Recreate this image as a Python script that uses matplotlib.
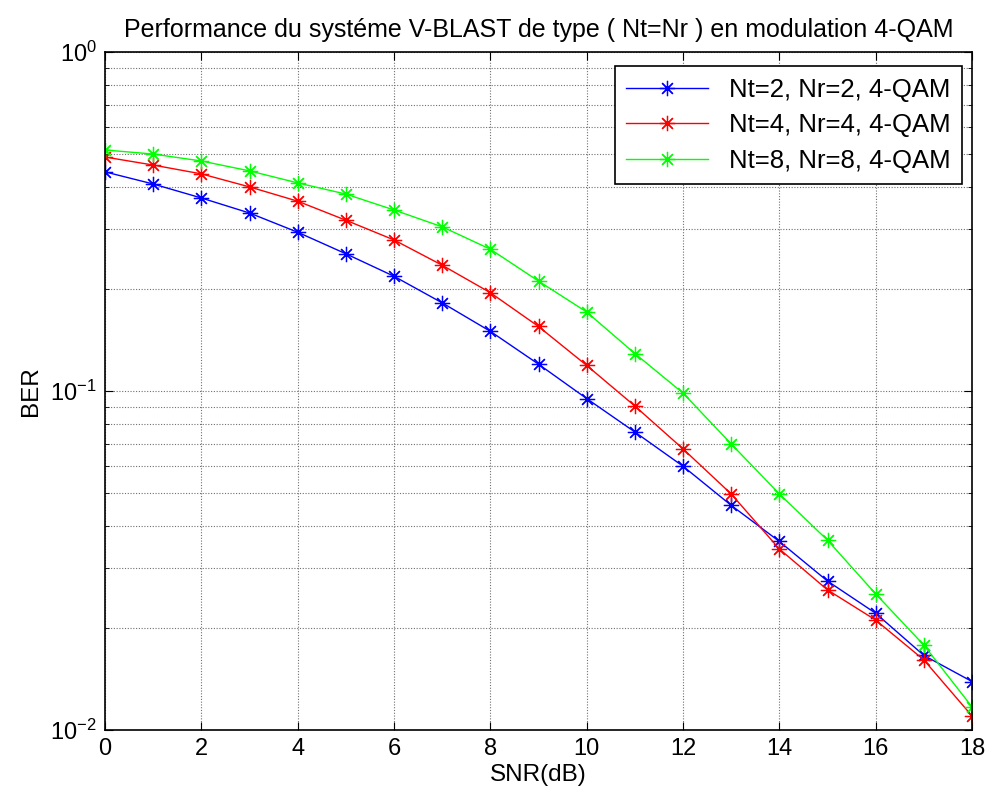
import numpy as np
import matplotlib.pyplot as plt
from matplotlib.ticker import LogLocator, FixedLocator, FuncFormatter

plt.rcParams['font.family'] = ['Liberation Sans', 'DejaVu Sans']
plt.rcParams['mathtext.fontset'] = 'custom'
plt.rcParams['mathtext.rm'] = 'Liberation Sans'
plt.rcParams['mathtext.default'] = 'regular'
plt.rcParams['axes.unicode_minus'] = False

snr = np.arange(0, 19)

ber_2x2 = [0.443, 0.408, 0.371, 0.335, 0.294, 0.254, 0.218, 0.182, 0.150, 0.120,
           0.095, 0.0757, 0.060, 0.046, 0.036, 0.0275, 0.0221, 0.0166, 0.0139]
ber_4x4 = [0.490, 0.464, 0.437, 0.400, 0.363, 0.319, 0.279, 0.235, 0.195, 0.155,
           0.119, 0.0903, 0.0675, 0.0497, 0.0342, 0.0259, 0.0211, 0.0161, 0.0110]
ber_8x8 = [0.514, 0.500, 0.477, 0.446, 0.411, 0.381, 0.342, 0.305, 0.262, 0.211,
           0.171, 0.129, 0.0986, 0.0698, 0.0497, 0.0363, 0.0252, 0.0178, 0.0117]

labels = ['Nt=2, Nr=2, 4-QAM', 'Nt=4, Nr=4, 4-QAM', 'Nt=8, Nr=8, 4-QAM']
colors = ['#0000ff', '#ff0000', '#00ff00']

fig = plt.figure(figsize=(9.89, 8.01), dpi=100)
ax = fig.add_axes([105 / 989, 1 - 730 / 801, 867 / 989, 678 / 801])

# matlab style '*' marker
star = (8, 2, 0)
for ber, lab, c in zip([ber_2x2, ber_4x4, ber_8x8], labels, colors):
    ax.semilogy(snr, ber, color=c, lw=1, marker=star, ms=11, mew=0.9, label=lab)

ax.set_xlim(0, 18)
ax.set_ylim(1e-2, 1)
ax.xaxis.set_major_locator(FixedLocator(np.arange(0, 19, 2)))
ax.yaxis.set_major_locator(LogLocator(base=10, numticks=5))
ax.yaxis.set_minor_locator(LogLocator(base=10, subs=np.arange(2, 10), numticks=10))
ax.yaxis.set_major_formatter(FuncFormatter(lambda v, p: '$10^{%d}$' % round(np.log10(v))))

ax.grid(True, which='major', color='#707070', ls=(0, (1, 1.5)), lw=0.8)
ax.grid(True, which='minor', axis='y', color='#707070', ls=(0, (1, 1.5)), lw=0.8)
ax.tick_params(which='both', direction='in', top=True, right=True, labelsize=17, pad=6)
ax.tick_params(which='major', length=6)
ax.tick_params(which='minor', length=3)
for s in ax.spines.values():
    s.set_linewidth(1.2)

ax.set_xlabel('SNR(dB)', fontsize=17.5, labelpad=3)
ax.set_ylabel('BER', fontsize=17.5, labelpad=6)
ax.set_title('Performance du systéme V-BLAST de type ( Nt=Nr ) en modulation 4-QAM',
             fontsize=18, pad=11)

leg = ax.legend(loc='upper right', bbox_to_anchor=(0.9885, 0.979), fontsize=18.5,
                fancybox=False, framealpha=1, edgecolor='black', borderaxespad=0,
                handlelength=3.2, borderpad=0.45, labelspacing=0.45)
leg.get_frame().set_linewidth(1.2)

fig.savefig('out.png', dpi=100)
